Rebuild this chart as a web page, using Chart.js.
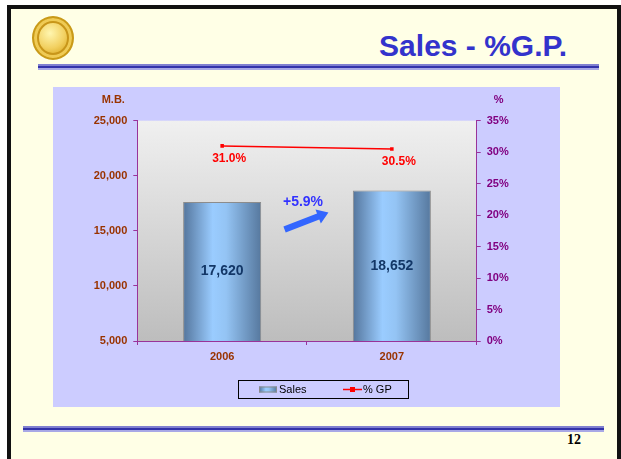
<!DOCTYPE html>
<html><head><meta charset="utf-8">
<script src="https://cdn.jsdelivr.net/npm/chart.js@4.4.0/dist/chart.umd.min.js"></script>
<style>
html,body{margin:0;padding:0;background:#fff;width:621px;height:459px;overflow:hidden;font-family:"Liberation Sans",Arial,sans-serif;}
#slide{position:absolute;left:7px;top:5px;width:606px;height:460px;border:4px solid #111;border-bottom:none;background:#FFFFE6;}
#logo{position:absolute;left:32px;top:16px;width:38px;height:40px;border-radius:50%;
 background:radial-gradient(circle at 42% 38%,#FFF6B0 0%,#F2D060 45%,#D9A820 75%,#B8860B 100%);
 border:2px solid #C99A18;box-shadow:inset 0 0 0 3px #EFCB55, inset 0 0 0 5px #C8961A;}
#title{position:absolute;right:54px;top:30.6px;font:bold 30px "Liberation Sans",Arial,sans-serif;line-height:30px;color:#3333CC;white-space:nowrap;}
.rule{position:absolute;height:6px;background:linear-gradient(to bottom,#8080D0 0,#8080D0 2px,#3333AA 2px,#3333AA 4px,#A8A8E6 4px,#A8A8E6 6px);}
#num{position:absolute;left:567px;top:433.3px;font:bold 14px "Liberation Serif","Times New Roman",serif;line-height:14px;color:#000;}
#wrap{position:absolute;left:53px;top:87px;width:507px;height:320px;background:#CCCCFF;}
</style></head><body>
<div id="slide"></div>
<div id="logo"></div>
<div id="title">Sales - %G.P.</div>
<div class="rule" style="left:38px;top:64px;width:561px;"></div>
<div class="rule" style="left:23px;top:426px;width:581px;"></div>
<div id="num">12</div>
<div id="wrap"><canvas id="c" width="507" height="320"></canvas></div>
<script>
const categories = ["2006", "2007"];
const sales = [17620, 18652];
const gpPercent = [31.0, 30.5];
const salesTicks = [5000, 10000, 15000, 20000, 25000];
const pctTicks = [0, 5, 10, 15, 20, 25, 30, 35];
const seriesLabels = ["Sales", "% GP"];
const yTitleLeft = "M.B.";
const yTitleRight = "%";

const FONT = '"Liberation Sans", Arial, sans-serif';
const AXIS = '#993399';
const CAT_PCT = 0.5, BAR_PCT = 0.92;

function barGradient(ctx, x0, x1) {
  const g = ctx.createLinearGradient(x0, 0, x1, 0);
  g.addColorStop(0, '#54759C');
  g.addColorStop(0.38, '#9ACCFF');
  g.addColorStop(0.55, '#94C4F4');
  g.addColorStop(1, '#56789E');
  return g;
}

const bgPlugin = {
  id: 'plotbg',
  beforeDraw(chart) {
    const {ctx, chartArea: a} = chart;
    const g = ctx.createLinearGradient(0, a.top, 0, a.bottom);
    g.addColorStop(0, '#F0F0F0');
    g.addColorStop(1, '#BDBDBD');
    ctx.save(); ctx.fillStyle = g;
    ctx.fillRect(a.left, a.top, a.right - a.left, a.bottom - a.top);
    ctx.restore();
  }
};

const labelPlugin = {
  id: 'labels',
  afterDatasetsDraw(chart) {
    const {ctx, chartArea: a} = chart;
    const xs = chart.scales.x, ys = chart.scales.y;
    ctx.save();
    ctx.textAlign = 'center'; ctx.textBaseline = 'middle';
    // bar value labels
    const barMeta = chart.getDatasetMeta(0);
    ctx.font = 'bold 14px ' + FONT; ctx.fillStyle = '#133767';
    barMeta.data.forEach((el, i) => {
      const base = Math.min(el.base, a.bottom);
      ctx.fillText(sales[i].toLocaleString('en-US'), el.x, (el.y + base) / 2);
    });
    // line labels
    const lineMeta = chart.getDatasetMeta(1);
    ctx.font = 'bold 12px ' + FONT; ctx.fillStyle = '#FF0000';
    lineMeta.data.forEach((el, i) => {
      ctx.fillText(gpPercent[i].toFixed(1) + '%', el.x + 7, el.y + 13);
    });
    // growth annotation
    const growth = (sales[1] / sales[0] - 1) * 100;
    const mid = xs.getPixelForValue(0.5);
    const top0 = ys.getPixelForValue(sales[0]);
    ctx.font = 'bold 14px ' + FONT; ctx.fillStyle = '#3333FF';
    ctx.fillText('+' + growth.toFixed(1) + '%', mid - 4, top0);
    // arrow
    ctx.translate(mid - 0.5, top0 + 19);
    ctx.rotate(Math.atan2(-16.9, 44));
    const L = 23.5, hl = 11, ht = 3.2, hw = 7.5;
    ctx.beginPath();
    ctx.moveTo(-L, -ht); ctx.lineTo(L - hl, -ht); ctx.lineTo(L - hl, -hw);
    ctx.lineTo(L, 0); ctx.lineTo(L - hl, hw); ctx.lineTo(L - hl, ht); ctx.lineTo(-L, ht);
    ctx.closePath();
    ctx.fillStyle = '#3366FF'; ctx.fill();
    ctx.restore();
  },
  afterDraw(chart) {
    const {ctx, chartArea: a} = chart;
    ctx.save();
    ctx.textAlign = 'center'; ctx.textBaseline = 'middle';
    ctx.font = 'bold 11px ' + FONT;
    ctx.fillStyle = '#993300'; ctx.fillText(yTitleLeft, a.left - 24, a.top - 21);
    ctx.fillStyle = '#800080'; ctx.fillText(yTitleRight, a.right + 22, a.top - 21);
    // legend
    const bx = 185, by = 293, bw = 170, bh = 18;
    ctx.fillStyle = '#CCCCFF'; ctx.fillRect(bx, by, bw, bh);
    ctx.strokeStyle = '#000'; ctx.lineWidth = 1;
    ctx.strokeRect(bx + 0.5, by + 0.5, bw, bh);
    const cy = by + 9.5;
    ctx.fillStyle = barGradient(ctx, 206, 224);
    ctx.fillRect(206, cy - 3, 18, 6);
    ctx.strokeStyle = '#8C8C8C'; ctx.strokeRect(206.5, cy - 2.5, 17, 5);
    ctx.textAlign = 'left'; ctx.font = '11px ' + FONT; ctx.fillStyle = '#000';
    ctx.fillText(seriesLabels[0], 226, cy);
    ctx.strokeStyle = '#FF0000'; ctx.lineWidth = 1.5;
    ctx.beginPath(); ctx.moveTo(290, cy); ctx.lineTo(309, cy); ctx.stroke();
    ctx.fillStyle = '#FF0000'; ctx.fillRect(297, cy - 2.5, 5, 5);
    ctx.fillStyle = '#000'; ctx.fillText(seriesLabels[1], 310, cy);
    ctx.restore();
  }
};

new Chart(document.getElementById('c'), {
  data: {
    labels: categories,
    datasets: [
      {
        type: 'bar', label: seriesLabels[0], data: sales, yAxisID: 'y', order: 2,
        categoryPercentage: CAT_PCT, barPercentage: BAR_PCT,
        borderColor: '#8C8C8C', borderWidth: 1,
        backgroundColor: (c) => {
          const xs = c.chart.scales.x;
          if (!xs || c.type !== 'data' || !xs.width) return '#8DB3E2';
          const cx = xs.getPixelForValue(c.dataIndex);
          const w = xs.width / categories.length * CAT_PCT * BAR_PCT;
          return barGradient(c.chart.ctx, cx - w / 2, cx + w / 2);
        }
      },
      {
        type: 'line', label: seriesLabels[1], data: gpPercent, yAxisID: 'y1', order: 1,
        borderColor: '#FF0000', backgroundColor: '#FF0000', borderWidth: 1.5,
        pointStyle: 'rect', pointRadius: 2.5, pointBorderWidth: 0, tension: 0
      }
    ]
  },
  options: {
    responsive: false, animation: false, devicePixelRatio: 1,
    layout: { padding: { top: 33.7, bottom: 44, left: 0, right: 0 } },
    plugins: { legend: { display: false }, tooltip: { enabled: false } },
    scales: {
      x: {
        type: 'category', offset: true,
        grid: { display: true, drawOnChartArea: false, offset: true, color: AXIS, tickLength: 4 },
        border: { display: true, color: AXIS, width: 1 },
        ticks: { color: '#993300', font: { family: FONT, size: 11, weight: 'bold' }, padding: 5 },
        afterFit: s => { s.height = 22; }
      },
      y: {
        position: 'left', min: salesTicks[0], max: salesTicks[salesTicks.length - 1],
        afterBuildTicks: s => { s.ticks = salesTicks.map(v => ({ value: v })); },
        ticks: { color: '#993300', font: { family: FONT, size: 11, weight: 'bold' }, padding: 6,
                 callback: v => v.toLocaleString('en-US') },
        grid: { drawOnChartArea: false, color: AXIS, tickLength: 4 },
        border: { color: AXIS, width: 1 },
        afterFit: s => { s.width = 84.3; }
      },
      y1: {
        position: 'right', min: pctTicks[0], max: pctTicks[pctTicks.length - 1],
        afterBuildTicks: s => { s.ticks = pctTicks.map(v => ({ value: v })); },
        ticks: { color: '#800080', font: { family: FONT, size: 11, weight: 'bold' }, padding: 6,
                 callback: v => v + '%' },
        grid: { drawOnChartArea: false, color: AXIS, tickLength: 4 },
        border: { color: AXIS, width: 1 },
        afterFit: s => { s.width = 83.3; }
      }
    }
  },
  plugins: [bgPlugin, labelPlugin]
});
</script>
</body></html>
